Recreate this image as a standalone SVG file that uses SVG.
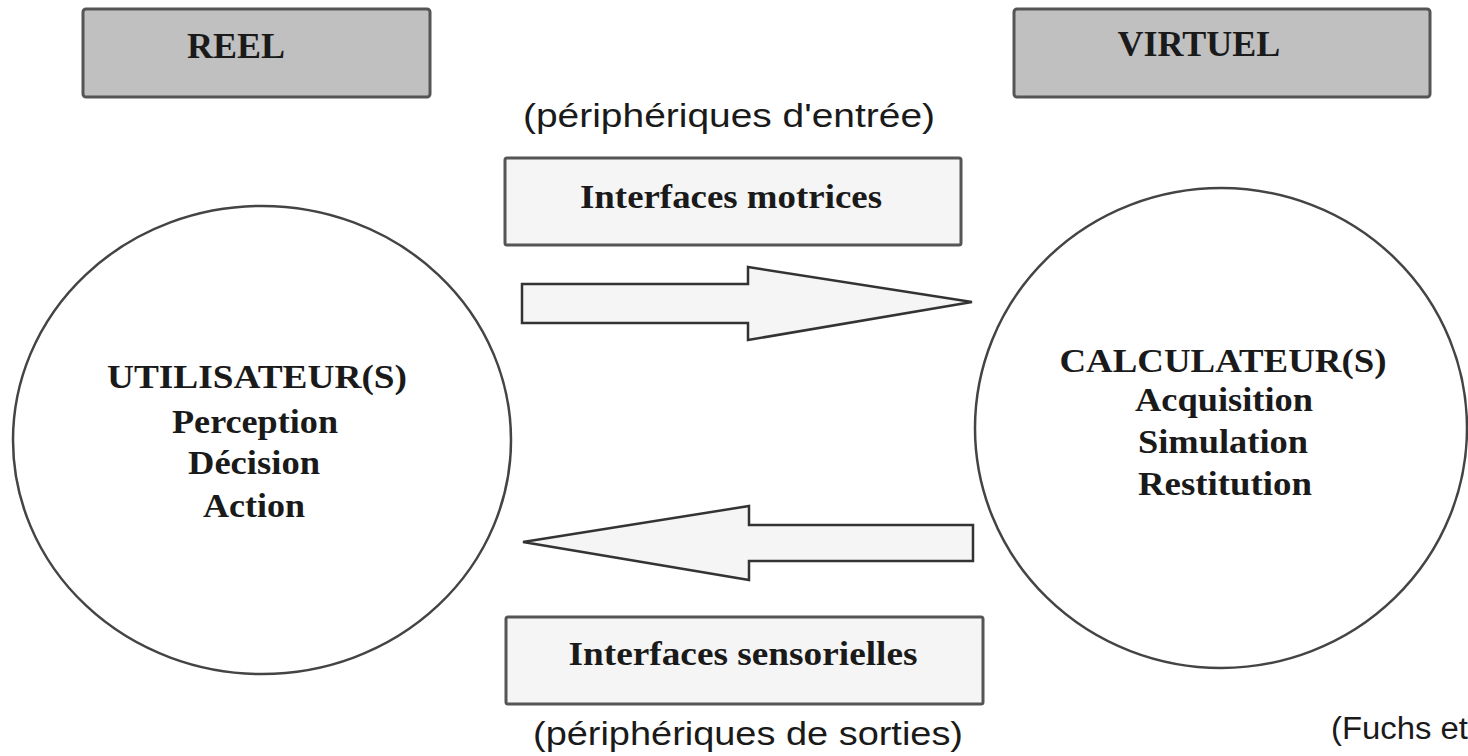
<svg xmlns="http://www.w3.org/2000/svg" width="1468" height="756" viewBox="0 0 1468 756">
<style>
.bg{fill:#ffffff}
.hdr{fill:#c0c0c0;stroke:#555;stroke-width:3}
.ifc{fill:#f5f5f5;stroke:#555;stroke-width:3}
.circ{fill:#ffffff;stroke:#444;stroke-width:2.5}
.arr{fill:#f5f5f5;stroke:#333;stroke-width:2.5;stroke-linejoin:miter}
.serif{font-family:"Liberation Serif","Times New Roman",serif;font-weight:bold;fill:#1a1a1a;text-anchor:middle}
.sans{font-family:"Liberation Sans",Arial,sans-serif;fill:#1a1a1a}
</style>
<rect class="bg" x="0" y="0" width="1468" height="756"/>
<g id="reel">
<rect class="hdr" x="83" y="9" width="347" height="88" rx="3"/>
<text class="serif" x="236" y="58" font-size="36">REEL</text>
</g>
<g id="virtuel">
<rect class="hdr" x="1014" y="9" width="416" height="88" rx="3"/>
<text class="serif" x="1199" y="56" font-size="36">VIRTUEL</text>
</g>
<g id="label-entree">
<text class="sans" x="523" y="127" font-size="34" textLength="412" lengthAdjust="spacingAndGlyphs">(périphériques d'entrée)</text>
</g>
<g id="interfaces-motrices">
<rect class="ifc" x="505" y="158" width="456" height="87" rx="2"/>
<text class="serif" x="731" y="208" font-size="33" textLength="302" lengthAdjust="spacingAndGlyphs">Interfaces motrices</text>
</g>
<g id="utilisateurs">
<ellipse class="circ" cx="262" cy="440" rx="249" ry="234"/>
<text class="serif" x="257" y="388" font-size="33" textLength="300" lengthAdjust="spacingAndGlyphs">UTILISATEUR(S)</text>
<text class="serif" x="255" y="433" font-size="34" textLength="166" lengthAdjust="spacingAndGlyphs">Perception</text>
<text class="serif" x="254" y="474" font-size="34" textLength="132" lengthAdjust="spacingAndGlyphs">Décision</text>
<text class="serif" x="254" y="517" font-size="34" textLength="102" lengthAdjust="spacingAndGlyphs">Action</text>
</g>
<g id="calculateurs">
<ellipse class="circ" cx="1221" cy="428" rx="246" ry="240"/>
<text class="serif" x="1223" y="372" font-size="33" textLength="327" lengthAdjust="spacingAndGlyphs">CALCULATEUR(S)</text>
<text class="serif" x="1224" y="411" font-size="34" textLength="178" lengthAdjust="spacingAndGlyphs">Acquisition</text>
<text class="serif" x="1223" y="453" font-size="34" textLength="170" lengthAdjust="spacingAndGlyphs">Simulation</text>
<text class="serif" x="1225" y="495" font-size="34" textLength="174" lengthAdjust="spacingAndGlyphs">Restitution</text>
</g>
<g id="connectors">
<polygon class="arr" points="522,284 748,284 748,267 972,302 748,340 748,323 522,323"/>
<polygon class="arr" points="973,525 749,525 749,506 523,542 749,580 749,561 973,561"/>
</g>
<g id="interfaces-sensorielles">
<rect class="ifc" x="506" y="617" width="477" height="87" rx="2"/>
<text class="serif" x="743" y="665" font-size="33" textLength="349" lengthAdjust="spacingAndGlyphs">Interfaces sensorielles</text>
</g>
<g id="label-sorties">
<text class="sans" x="533" y="745" font-size="34" textLength="430" lengthAdjust="spacingAndGlyphs">(périphériques de sorties)</text>
</g>
<g id="source">
<text class="sans" x="1331" y="739" font-size="31" textLength="137" lengthAdjust="spacingAndGlyphs">(Fuchs et</text>
</g>
</svg>
